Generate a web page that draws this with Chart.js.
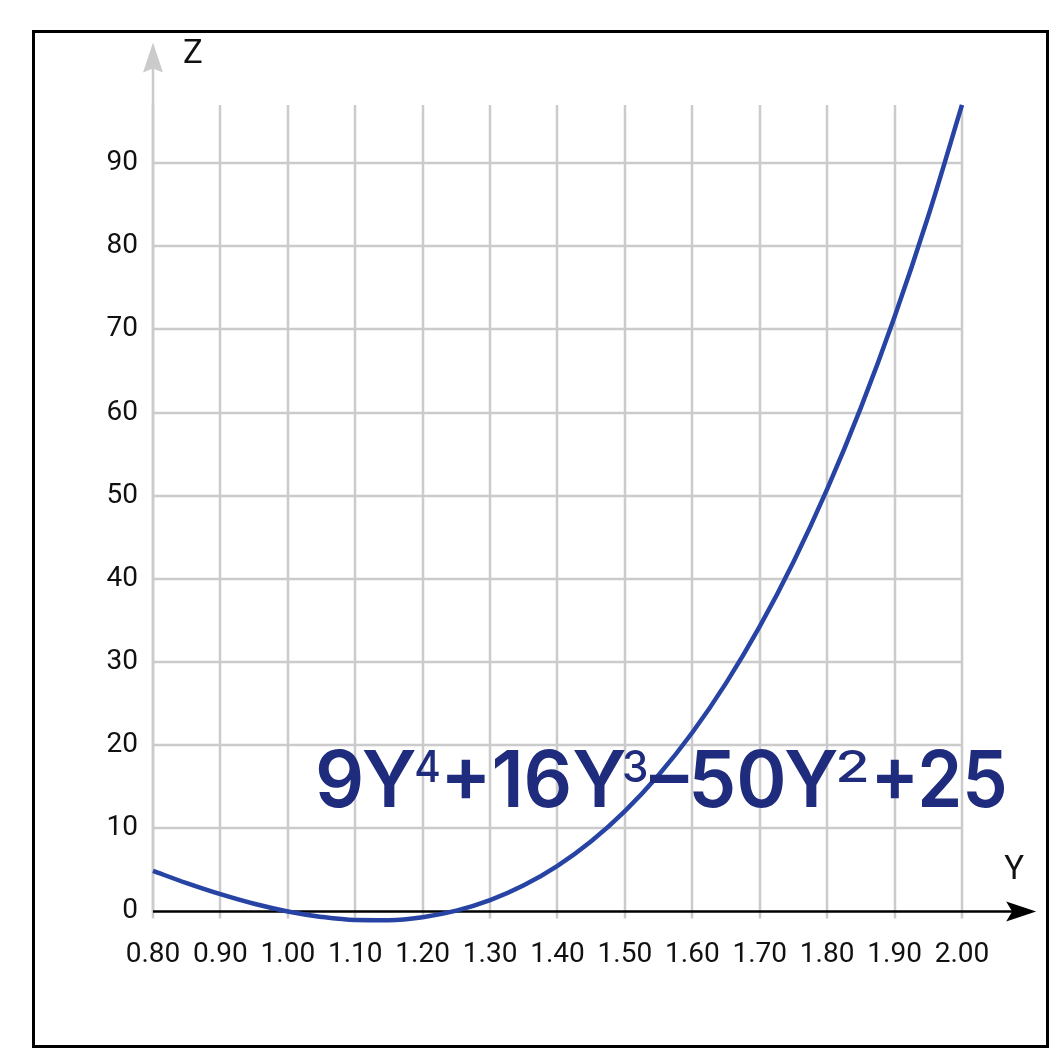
<!DOCTYPE html>
<html>
<head>
<meta charset="utf-8">
<script src="https://cdn.jsdelivr.net/npm/chart.js@4/dist/chart.umd.min.js"></script>
<style>
  html, body { margin: 0; padding: 0; background: #ffffff; }
  #wrap { width: 1063px; height: 1063px; position: relative; }
</style>
</head>
<body>
<div id="wrap"><canvas id="c" width="1063" height="1063"></canvas></div>
<script>
// ---- data ----
const yValues = [0.80, 0.85, 0.90, 0.95, 1.00, 1.05, 1.10, 1.15, 1.20, 1.25, 1.30, 1.35, 1.40, 1.45, 1.50, 1.55, 1.60, 1.65, 1.70, 1.75, 1.80, 1.85, 1.90, 1.95, 2.00];
const zValues = [4.88, 3.40, 2.07, 0.92, 0.00, -0.66, -1.03, -1.05, -0.69, 0.10, 1.36, 3.14, 5.48, 8.44, 12.06, 16.41, 21.52, 27.46, 34.28, 42.04, 50.79, 60.60, 71.53, 83.64, 97.00];
const xTickValues = [0.8, 0.9, 1.0, 1.1, 1.2, 1.3, 1.4, 1.5, 1.6, 1.7, 1.8, 1.9, 2.0];
const xTickLabels = ["0.80", "0.90", "1.00", "1.10", "1.20", "1.30", "1.40", "1.50", "1.60", "1.70", "1.80", "1.90", "2.00"];
const zTickValues = [0, 10, 20, 30, 40, 50, 60, 70, 80, 90];
const zTickLabels = ["0", "10", "20", "30", "40", "50", "60", "70", "80", "90"];
const xAxisTitle = "Y";
const zAxisTitle = "Z";
const formulaParts = ["9Y", "4", "+16Y", "3", "\u201350Y", "2", "+25"];
const formulaIsSup = [false, true, false, true, false, true, false];

// layout of the formula (ink left / right in px)
const formulaBoxes = [[318, 415], [416, 439], [447, 625], [624, 647], [650, 837], [839, 867], [877, 1005]];

const gridTop = 97;   // value where vertical grid lines end
const xArrowEnd = 2.11;
const zArrowEnd = 104.5;

const overlay = {
  id: 'overlay',
  beforeDatasetsDraw(chart) {
    const ctx = chart.ctx;
    const xs = chart.scales.x, ys = chart.scales.y;
    ctx.save();
    // frame
    ctx.strokeStyle = '#000';
    ctx.lineWidth = 3;
    ctx.strokeRect(33.5, 31.5, 1014, 1015);
    // grid
    ctx.strokeStyle = '#cbcbcb';
    ctx.lineWidth = 2.5;
    const y0 = ys.getPixelForValue(0);
    const yTop = ys.getPixelForValue(gridTop);
    xTickValues.forEach(v => {
      const px = Math.round(xs.getPixelForValue(v));
      ctx.beginPath(); ctx.moveTo(px, yTop); ctx.lineTo(px, y0 + 7); ctx.stroke();
    });
    const xl = xs.getPixelForValue(xTickValues[0]);
    const xr = xs.getPixelForValue(xTickValues[xTickValues.length - 1]);
    zTickValues.forEach(v => {
      if (v === 0) return;
      const py = Math.round(ys.getPixelForValue(v));
      ctx.beginPath(); ctx.moveTo(xl, py); ctx.lineTo(xr, py); ctx.stroke();
    });
    // z axis (grey) with arrow
    const zTip = ys.getPixelForValue(zArrowEnd);
    ctx.beginPath(); ctx.moveTo(xl, y0); ctx.lineTo(xl, zTip + 20); ctx.stroke();
    ctx.fillStyle = '#cbcbcb';
    ctx.beginPath(); ctx.moveTo(xl, zTip); ctx.lineTo(xl - 10, zTip + 30); ctx.lineTo(xl, zTip + 26); ctx.lineTo(xl + 10, zTip + 30); ctx.closePath(); ctx.fill();
    // x axis (black) with arrow
    const xTip = xs.getPixelForValue(xArrowEnd);
    ctx.strokeStyle = '#000';
    ctx.beginPath(); ctx.moveTo(xl, y0); ctx.lineTo(xTip - 20, y0); ctx.stroke();
    ctx.fillStyle = '#000';
    ctx.beginPath(); ctx.moveTo(xTip, y0); ctx.lineTo(xTip - 30, y0 - 10); ctx.lineTo(xTip - 24, y0); ctx.lineTo(xTip - 30, y0 + 10); ctx.closePath(); ctx.fill();
    // tick labels
    ctx.fillStyle = '#111';
    ctx.font = '28px Roboto';
    ctx.textAlign = 'center'; ctx.textBaseline = 'middle';
    xTickValues.forEach((v, i) => ctx.fillText(xTickLabels[i], xs.getPixelForValue(v), y0 + 44));
    ctx.textAlign = 'right';
    zTickValues.forEach((v, i) => ctx.fillText(zTickLabels[i], xl - 15, ys.getPixelForValue(v)));
    // axis titles
    ctx.font = '33px Roboto';
    ctx.textAlign = 'center';
    ctx.fillText(zAxisTitle, xl + 40, zTip + 12);
    ctx.fillText(xAxisTitle, xTip - 22, y0 - 41);
    ctx.restore();
  },
  afterDatasetsDraw(chart) {
    const ctx = chart.ctx;
    ctx.save();
    ctx.fillStyle = '#1f2b7c';
    ctx.textBaseline = 'alphabetic';
    ctx.textAlign = 'left';
    const big = '600 78px Inter', small = '500 44px Inter';
    const base = 807, supBase = 782;
    formulaParts.forEach((t, i) => {
      const sup = formulaIsSup[i];
      ctx.font = sup ? small : big;
      const m = ctx.measureText(t);
      const inkW = m.actualBoundingBoxLeft + m.actualBoundingBoxRight;
      const [l, r] = formulaBoxes[i];
      const sx = (r - l) / inkW;
      ctx.save();
      ctx.translate(l + m.actualBoundingBoxLeft * sx, sup ? supBase : base);
      ctx.scale(sx, 1);
      ctx.fillText(t, 0, 0);
      ctx.restore();
    });
    ctx.restore();
  }
};

new Chart(document.getElementById('c'), {
  type: 'line',
  data: {
    datasets: [{
      data: yValues.map((y, i) => ({ x: y, y: zValues[i] })),
      borderColor: '#2743a3',
      borderWidth: 4.5,
      pointRadius: 0,
      tension: 0.4,
      cubicInterpolationMode: 'monotone',
      fill: false,
      clip: false
    }]
  },
  options: {
    responsive: false,
    animation: false,
    events: [],
    layout: { padding: { left: 153, right: 101, top: 80, bottom: 110 } },
    plugins: { legend: { display: false }, tooltip: { enabled: false } },
    scales: {
      x: { type: 'linear', display: false, min: 0.8, max: 2.0 },
      y: { type: 'linear', display: false, min: -5, max: 100 }
    }
  },
  plugins: [overlay]
});
</script>
</body>
</html>
